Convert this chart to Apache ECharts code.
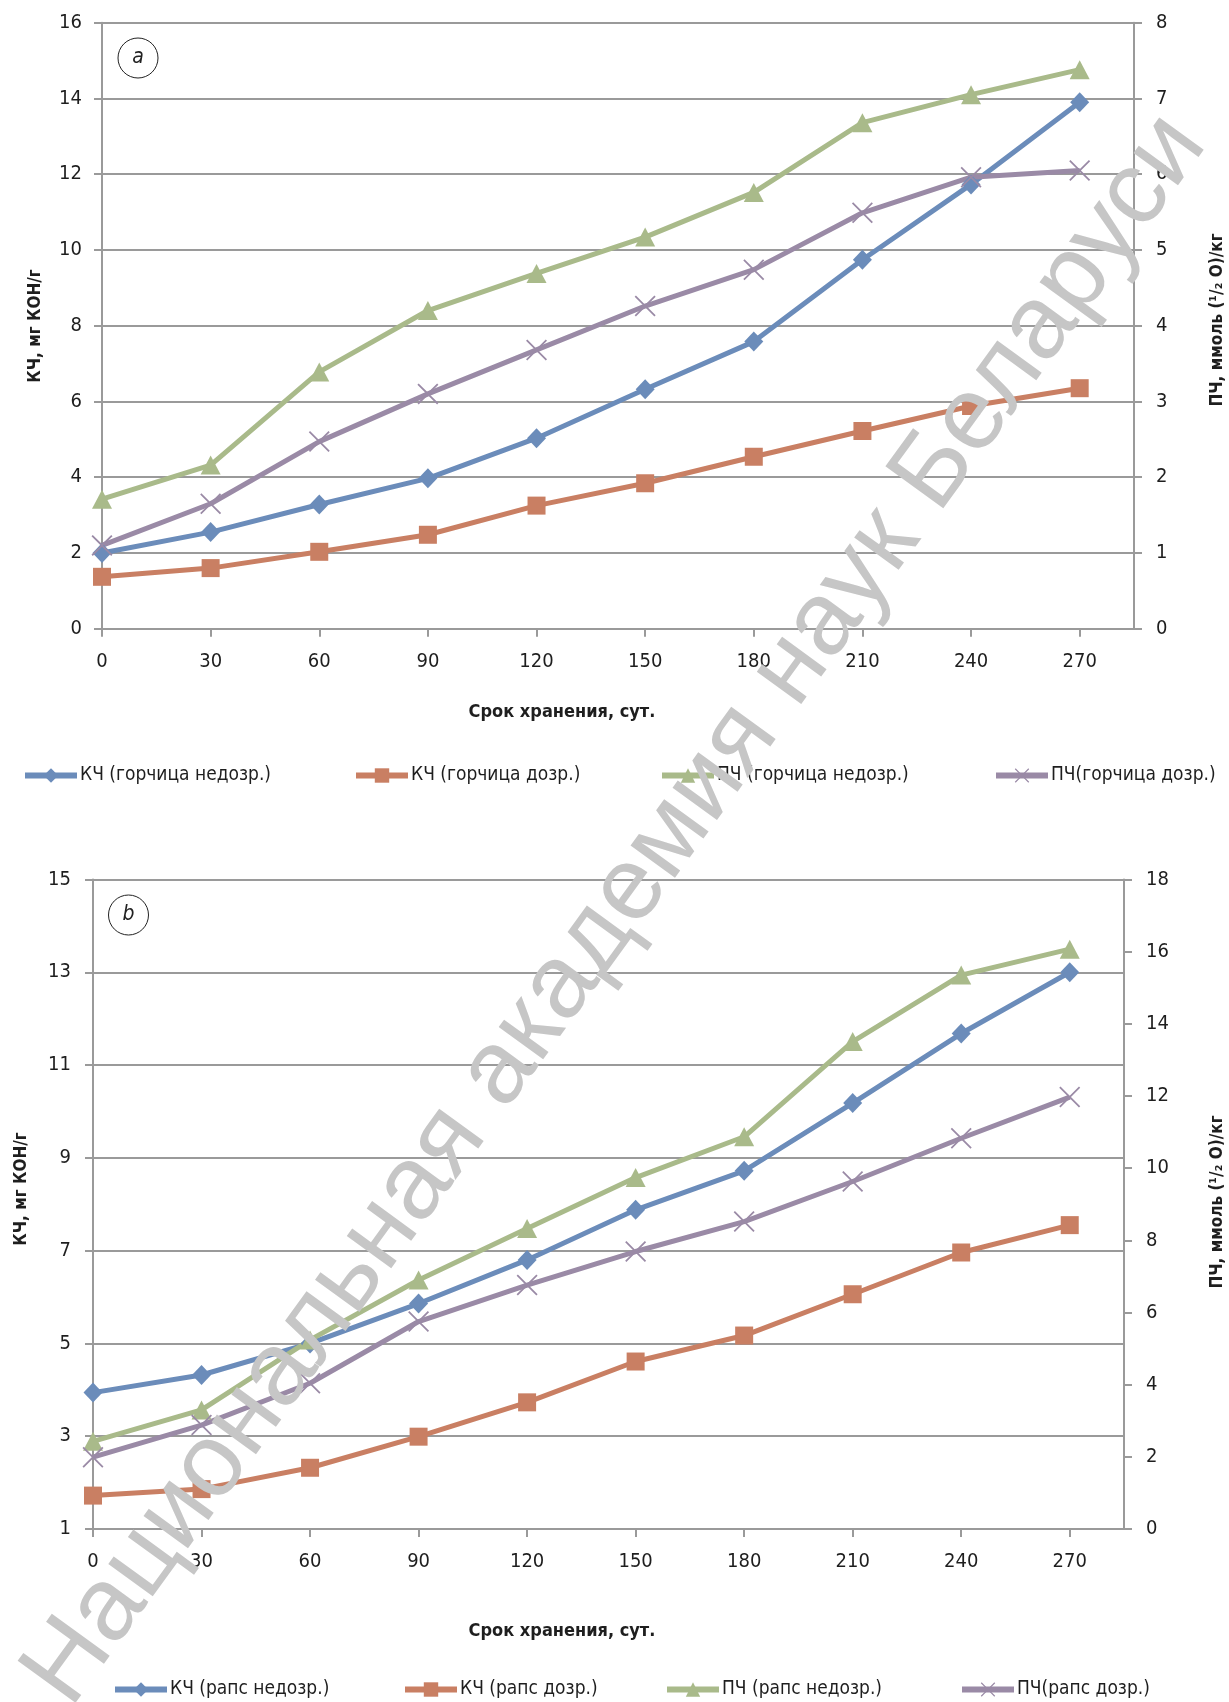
<!DOCTYPE html>
<html><head><meta charset="utf-8">
<script src="https://cdn.jsdelivr.net/npm/echarts@6/dist/echarts.min.js"></script>
<style>html,body{margin:0;padding:0;background:#fff}#c{width:1229px;height:1702px}</style>
</head><body><div id="c"></div>
<script>
// ---- data ----
const days = [0, 30, 60, 90, 120, 150, 180, 210, 240, 270];
// chart a: горчица
const kchMustardUnripe = [2.0, 2.55, 3.28, 3.97, 5.03, 6.32, 7.58, 9.74, 11.73, 13.9];
const kchMustardRipe   = [1.37, 1.6, 2.03, 2.48, 3.25, 3.84, 4.54, 5.22, 5.88, 6.35];
const pchMustardUnripe = [1.71, 2.16, 3.39, 4.2, 4.69, 5.17, 5.76, 6.68, 7.05, 7.38];
const pchMustardRipe   = [1.1, 1.65, 2.47, 3.1, 3.68, 4.26, 4.74, 5.49, 5.96, 6.05];
// chart b: рапс
const kchRapeUnripe = [3.94, 4.32, 5.0, 5.86, 6.8, 7.88, 8.72, 10.18, 11.68, 13.0];
const kchRapeRipe   = [1.72, 1.86, 2.32, 2.99, 3.73, 4.61, 5.17, 6.06, 6.96, 7.55];
const pchRapeUnripe = [2.43, 3.3, 5.24, 6.9, 8.33, 9.74, 10.87, 13.51, 15.35, 16.07];
const pchRapeRipe   = [1.99, 2.88, 4.04, 5.75, 6.76, 7.69, 8.52, 9.63, 10.83, 11.97];

const namesA = ['КЧ (горчица недозр.)', 'КЧ (горчица дозр.)', 'ПЧ (горчица недозр.)', 'ПЧ(горчица дозр.)'];
const namesB = ['КЧ (рапс недозр.)', 'КЧ (рапс дозр.)', 'ПЧ (рапс недозр.)', 'ПЧ(рапс дозр.)'];
const xTitle = 'Срок хранения, сут.';
const yLeftTitle = 'КЧ, мг КОН/г';
const yRightTitle = 'ПЧ, ммоль (¹/₂ O)/кг';
const watermark = 'Национальная академия наук Беларуси';

// ---- style ----
const FONT = '"Liberation Sans Narrow", "DejaVu Sans Condensed", "Roboto Condensed", sans-serif';
const GRAY = '#9a9a9a';
const TXT = '#1e1e1e';
const colors = ['#6b8cba', '#c97f63', '#a9ba8a', '#9a8aa6'];
const xSym = 'path://M0,1.2 L1.2,0 L10,8.8 L18.8,0 L20,1.2 L11.2,10 L20,18.8 L18.8,20 L10,11.2 L1.2,20 L0,18.8 L8.8,10 Z';
const symbols = ['diamond', 'rect', 'triangle', xSym];
const symSizes = [[19, 20], 18, [20, 19], 21];

const chart = echarts.init(document.getElementById('c'), null, {renderer: 'canvas'});

function xAxisCfg(grid) {
  return {
    type: 'value', gridIndex: grid, min: 0, max: 285, interval: 30,
    axisLine: {show: true, onZero: false, lineStyle: {color: GRAY, width: 2}},
    axisTick: {show: true, customValues: days, length: 8, lineStyle: {color: GRAY, width: 2}},
    axisLabel: {customValues: days, margin: 23, fontFamily: FONT, fontSize: 20, color: TXT},
    splitLine: {show: false}
  };
}
function yAxisCfg(grid, pos, min, max, interval, split, margin) {
  return {
    type: 'value', gridIndex: grid, position: pos, min: min, max: max, interval: interval,
    axisLine: {show: true, lineStyle: {color: GRAY, width: 2}},
    axisTick: {show: true, length: 8, lineStyle: {color: GRAY, width: 2}},
    axisLabel: {margin: margin, fontFamily: FONT, fontSize: 20, color: TXT},
    splitLine: {show: split, lineStyle: {color: GRAY, width: 2}}
  };
}

function mk(name, arr, idx, xi, yi) {
  return {
    name: name, type: 'line', xAxisIndex: xi, yAxisIndex: yi,
    data: days.map((d, i) => [d, arr[i]]),
    symbol: symbols[idx], symbolSize: symSizes[idx], showAllSymbol: true,
    lineStyle: {color: colors[idx], width: 5},
    itemStyle: {color: colors[idx], borderWidth: 0},
    emphasis: {disabled: true}, animation: false, z: 3
  };
}

const series = [
  mk(namesA[0], kchMustardUnripe, 0, 0, 0),
  mk(namesA[1], kchMustardRipe, 1, 0, 0),
  mk(namesA[2], pchMustardUnripe, 2, 0, 1),
  mk(namesA[3], pchMustardRipe, 3, 0, 1),
  mk(namesB[0], kchRapeUnripe, 0, 1, 2),
  mk(namesB[1], kchRapeRipe, 1, 1, 2),
  mk(namesB[2], pchRapeUnripe, 2, 1, 3),
  mk(namesB[3], pchRapeRipe, 3, 1, 3)
];

const legPosA = [22, 353, 659, 993];
const legPosB = [112, 402, 664, 959];
const legends = [];
namesA.forEach((n, i) => legends.push({data: [n], left: legPosA[i], top: 766}));
namesB.forEach((n, i) => legends.push({data: [n], left: legPosB[i], top: 1680}));
legends.forEach(l => Object.assign(l, {
  orient: 'horizontal', padding: 0, itemGap: 0, itemWidth: 52, itemHeight: 18,
  selectedMode: false,
  lineStyle: {width: 6},
  textStyle: {fontFamily: FONT, fontSize: 19, color: TXT, padding: [0, 0, 0, -2]}
}));

function vText(x, y, t) {
  return {type: 'text', x: x, y: y, rotation: Math.PI / 2, z: 10,
    style: {text: t, font: 'bold 17px ' + FONT, fill: TXT, textAlign: 'center', textVerticalAlign: 'middle', align: 'center', verticalAlign: 'middle'}};
}
function hText(x, y, t) {
  return {type: 'text', x: x, y: y, z: 10,
    style: {text: t, font: 'bold 18px ' + FONT, fill: TXT, textAlign: 'center', textVerticalAlign: 'middle', align: 'center', verticalAlign: 'middle'}};
}
function circleLabel(x, y, t) {
  return [
    {type: 'circle', shape: {cx: x, cy: y, r: 20}, z: 10, style: {fill: '#fff', stroke: '#222', lineWidth: 1}},
    {type: 'text', x: x, y: y, z: 11, style: {text: t, font: 'italic 21px ' + FONT, fill: '#222', textAlign: 'center', textVerticalAlign: 'middle', align: 'center', verticalAlign: 'middle'}}
  ];
}

const graphic = [
  vText(36, 326, yLeftTitle),
  vText(1218, 320, yRightTitle),
  vText(22, 1189, yLeftTitle),
  vText(1218, 1202, yRightTitle),
  hText(562, 712, xTitle),
  hText(562, 1631, xTitle),
  ...circleLabel(138, 58, 'a'),
  ...circleLabel(128.5, 915, 'b'),
  {type: 'text', x: 616, y: 910, rotation: 54 * Math.PI / 180, z: 100, silent: true,
   style: {text: watermark, font: '104px "Liberation Sans", Arial, sans-serif', fill: '#c6c6c6', blend: 'multiply',
     textAlign: 'center', textVerticalAlign: 'middle', align: 'center', verticalAlign: 'middle'}}
];

chart.setOption({
  animation: false,
  backgroundColor: '#ffffff',
  grid: [
    {left: 102, top: 22.7, width: 1032, height: 606, containLabel: false},
    {left: 93, top: 879.5, width: 1031, height: 649.5, containLabel: false}
  ],
  xAxis: [xAxisCfg(0), xAxisCfg(1)],
  yAxis: [
    yAxisCfg(0, 'left', 0, 16, 2, true, 20),
    yAxisCfg(0, 'right', 0, 8, 1, false, 22),
    yAxisCfg(1, 'left', 1, 15, 2, true, 22),
    yAxisCfg(1, 'right', 0, 18, 2, false, 22)
  ],
  legend: legends,
  series: series,
  graphic: graphic
});
</script>
</body></html>
